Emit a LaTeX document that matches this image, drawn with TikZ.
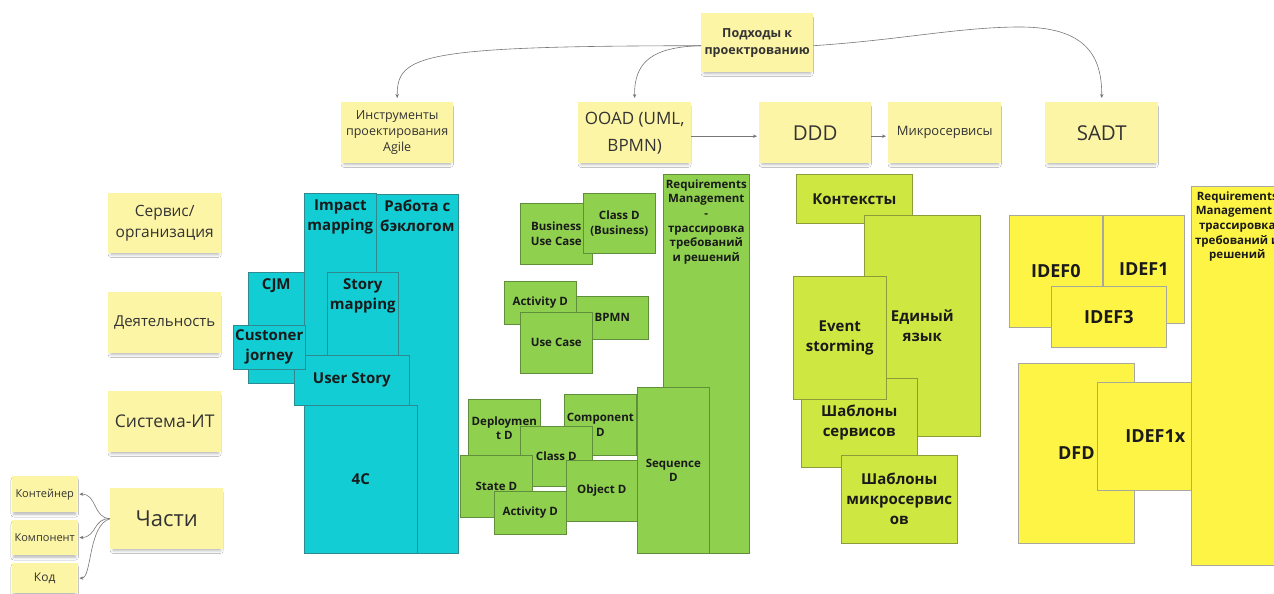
\documentclass[tikz,border=0pt]{standalone}
\usepackage{fontspec}
\setmainfont{Open Sans}
\usetikzlibrary{arrows.meta,shadows.blur}

\definecolor{stickyc}{HTML}{FDF5A6}
\definecolor{cyanc}{HTML}{12CDD4}
\definecolor{cyanb}{HTML}{2E8A8F}
\definecolor{greenc}{HTML}{8FD14F}
\definecolor{greenb}{HTML}{5F8F3A}
\definecolor{limec}{HTML}{CEE741}
\definecolor{limeb}{HTML}{8C9C3A}
\definecolor{yellc}{HTML}{FEF445}
\definecolor{yellb}{HTML}{A8A8A0}
\definecolor{inkc}{HTML}{1A1A1A}
\definecolor{notec}{HTML}{333333}
\definecolor{wirec}{HTML}{777777}

% card{style}{name}{x1}{y1}{x2}{y2}{vertical pos}{text}
\newcommand\card[8]{%
  \pgfmathsetmacro\cardw{#5-#3}%
  \pgfmathsetmacro\cardh{#6-#4}%
  \node[#1, anchor=north west, minimum width=\cardw pt, minimum height=\cardh pt, inner sep=0pt]
    (#2) at (#3,#4) {\parbox[c][\cardh pt][#7]{\cardw pt}{\centering #8\par}};}

\tikzset{
  sticky/.style={fill=stickyc, draw=none, text=notec,
    blur shadow={shadow xshift=0pt, shadow yshift=-3pt, shadow blur radius=3pt, shadow scale=0.95, shadow opacity=30}},
  tile/.style={line width=0.6pt, text=inkc},
  cyantile/.style={tile, fill=cyanc, draw=cyanb, font=\bfseries\fontsize{15}{20}\selectfont},
  greentile/.style={tile, fill=greenc, draw=greenb, font=\bfseries\fontsize{11.5}{14.7}\selectfont},
  limetile/.style={tile, fill=limec, draw=limeb, font=\bfseries\fontsize{15}{20}\selectfont},
  yelltile/.style={tile, fill=yellc, draw=yellb, font=\bfseries\fontsize{18}{22}\selectfont},
  wire/.style={draw=wirec, line width=0.6pt, -{Stealth[length=4pt,width=3.5pt]}, shorten >=2pt},
}

\begin{document}
\begin{tikzpicture}[x=1pt, y=-1pt]
\useasboundingbox[fill=white] (0,0) rectangle (1274,594);

% ---- approaches (top row) ----
\card{sticky, font=\bfseries\fontsize{12.5}{17}\selectfont}{pod}{701}{13}{813}{72}{c}{Подходы к\\проектрованию}
\card{sticky, font=\fontsize{12.5}{16}\selectfont}{instr}{341}{102}{453}{163}{c}{Инструменты\\проектирования\\Agile}
\card{sticky, font=\fontsize{17}{27}\selectfont}{ooad}{578}{102}{691}{163}{c}{OOAD (UML,\\BPMN)}
\card{sticky, font=\fontsize{20.5}{24}\selectfont}{ddd}{759}{102}{871}{163}{c}{DDD}
\card{sticky, font=\fontsize{13}{16}\selectfont}{micro}{888}{102}{1001}{163}{c}{Микросервисы}
\card{sticky, font=\fontsize{20.5}{24}\selectfont}{sadt}{1045}{102}{1158}{163}{c}{SADT}

% ---- levels (left column) ----
\card{sticky, font=\fontsize{15.5}{21}\selectfont}{serv}{108}{193}{221}{253}{c}{Сервис/\\организация}
\card{sticky, font=\fontsize{15}{20}\selectfont}{deyat}{108}{292}{221}{353}{c}{Деятельность}
\card{sticky, font=\fontsize{17.5}{22}\selectfont}{sist}{108}{391}{221}{452}{c}{Система-ИТ}
\card{sticky, font=\fontsize{22}{26}\selectfont}{chasti}{110}{488}{223}{549}{c}{Части}
\card{sticky, font=\fontsize{11}{14}\selectfont}{kont}{12}{476}{77}{512}{c}{Контейнер}
\card{sticky, font=\fontsize{11}{14}\selectfont}{komp}{12}{520}{77}{555}{c}{Компонент}
\card{sticky, font=\fontsize{12}{14}\selectfont}{kod}{12}{563}{77}{593}{c}{Код}

% ---- Agile tools ----
\card{cyantile}{backlog}{376}{194}{458}{553}{t}{\vspace*{6pt}Работа с\\бэклогом}
\card{cyantile}{impact}{304}{193}{376}{400}{t}{\vspace*{6pt}Impact\\mapping}
\card{cyantile}{cjm}{248}{272}{304}{383}{t}{\vspace*{6pt}CJM}
\card{cyantile}{storymap}{327}{272}{398}{380}{t}{\vspace*{6pt}Story\\mapping}
\card{cyantile}{userstory}{294}{355}{409}{405}{c}{User Story}
\card{cyantile}{cjorney}{233}{325}{305}{369}{c}{Custoner\\jorney}
\card{cyantile}{fourc}{304}{405}{417}{553}{c}{4C}

% ---- OOAD diagrams ----
\card{greentile}{reqg}{663}{174}{749}{553}{t}{\vspace*{5pt}Requirements\\Management\\-\\трассировка\\требований\\и решений}
\card{greentile}{buc}{520}{203}{592}{264}{c}{Business\\Use Case}
\card{greentile}{classb}{583}{193}{655}{253}{c}{Class D\\(Business)}
\card{greentile}{bpmn}{576}{296}{648}{339}{c}{BPMN}
\card{greentile}{acttop}{504}{281}{576}{324}{c}{Activity D}
\card{greentile}{usecase}{520}{312}{592}{373}{c}{Use Case}
\card{greentile}{deploy}{468}{399}{540}{457}{c}{Deploymen\\t D}
\card{greentile}{compd}{564}{394}{636}{455}{c}{Component\\D}
\card{greentile}{classd}{520}{426}{592}{486}{c}{Class D}
\card{greentile}{stated}{460}{455}{532}{517}{c}{State D}
\card{greentile}{objd}{566}{460}{637}{521}{c}{Object D}
\card{greentile}{actbot}{494}{491}{566}{534}{c}{Activity D}
\card{greentile}{seqd}{637}{387}{709}{553}{c}{Sequence\\D}

% ---- DDD practices ----
\card{limetile}{ctx}{796}{174}{912}{223}{c}{Контексты}
\card{limetile}{lang}{864}{215}{980}{436}{c}{Единый\\язык}
\card{limetile}{svcpat}{801}{378}{917}{467}{c}{Шаблоны\\сервисов}
\card{limetile}{evst}{793}{276}{886}{399}{c}{Event\\storming}
\card{limetile}{msvcpat}{841}{455}{957}{543}{c}{Шаблоны\\микросервис\\ов}

% ---- SADT notations ----
\card{yelltile}{idef0}{1009}{215}{1102}{327}{c}{IDEF0}
\card{yelltile}{idef1}{1103}{215}{1184}{323}{c}{IDEF1}
\card{yelltile}{idef3}{1051}{286}{1166}{347}{c}{IDEF3}
\card{yelltile}{dfd}{1018}{363}{1134}{543}{c}{DFD}
\card{yelltile}{idef1x}{1097}{382}{1213}{490}{c}{IDEF1x}
\card{yelltile, font=\bfseries\fontsize{11.5}{14.7}\selectfont}{reqy}{1191}{186}{1283}{565}{t}{\vspace*{5pt}Requirements\\Management -\\трассировка\\требований и\\решений}

% ---- connectors ----
\draw[wire, shorten >=4pt] ([yshift=-3pt]pod.west) .. controls (420,46) and (397,55) .. (instr.north);
\draw[wire, shorten >=4pt] ([yshift=-3pt]pod.west) .. controls (652,47) and (634,62) .. (ooad.north);
\draw[wire, shorten >=4pt] ([yshift=-3pt]pod.east) .. controls (900,40) and (960,27) .. (1020,27)
      .. controls (1085,27) and (1102,55) .. (sadt.north);
\draw[wire] ([yshift=-3.5pt]ooad.east) -- ([yshift=-3.5pt]ddd.west);
\draw[wire] ([yshift=-3.5pt]ddd.east) -- ([yshift=-3.5pt]micro.west);
\draw[wire] (chasti.west) .. controls (93,518) and (97,494) .. (kont.east);
\draw[wire] (chasti.west) .. controls (93,518) and (97,537) .. (komp.east);
\draw[wire] (chasti.west) .. controls (88,525) and (92,578) .. (kod.east);
\end{tikzpicture}
\end{document}
